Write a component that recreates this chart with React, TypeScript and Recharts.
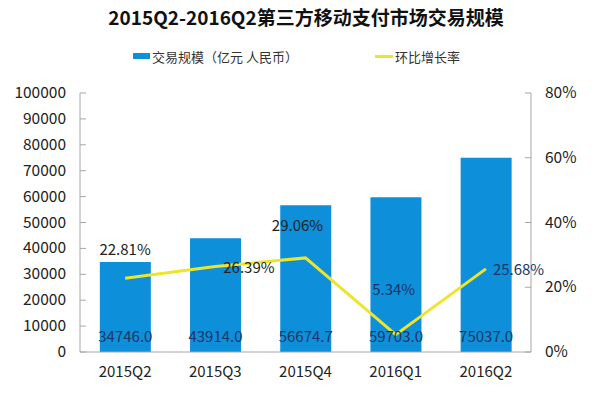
import React from "react";
import { ComposedChart, Bar, Line, XAxis, YAxis, LabelList } from "recharts";

const categories = ["2015Q2", "2015Q3", "2015Q4", "2016Q1", "2016Q2"];
const volume = [34746.0, 43914.0, 56674.7, 59703.0, 75037.0];
const growth = [22.81, 26.39, 29.06, 5.34, 25.68];
const leftTicks = [0, 10000, 20000, 30000, 40000, 50000, 60000, 70000, 80000, 90000, 100000];
const rightTicks = [0, 20, 40, 60, 80];

const data = categories.map((c, i) => ({ name: c, volume: volume[i], growth: growth[i] }));

const FONT = "'Noto Sans CJK SC', 'Noto Sans', sans-serif";
const BLUE = "#0E8FD9";
const YELLOW = "#EDE42B";

const LeftTick = (props: any) => {
  const { x, y, payload } = props;
  return (
    <g>
      <line x1={x + 14} x2={x + 20} y1={y} y2={y} stroke="#A6A6A6" />
      <text x={x} y={y} dy={5} textAnchor="end" fontSize={15.5} fill="#222" fontFamily={FONT}>
        {payload.value}
      </text>
    </g>
  );
};

const RightTick = (props: any) => {
  const { x, y, payload } = props;
  return (
    <g>
      <line x1={x - 20} x2={x - 14} y1={y} y2={y} stroke="#A6A6A6" />
      <text x={x} y={y} dy={5} textAnchor="start" fontSize={15.5} fill="#222" fontFamily={FONT}>
        {payload.value + "%"}
      </text>
    </g>
  );
};

const BarValueLabel = (props: any) => {
  const { x, width, y, height, value } = props;
  return (
    <text
      x={x + width / 2}
      y={y + height - 15}
      dy={5}
      textAnchor="middle"
      fontSize={15}
      fill="#1B3566"
      fontFamily={FONT}
    >
      {Number(value).toFixed(1)}
    </text>
  );
};

const LineLabel = (props: any) => {
  const { x, y, value, index } = props;
  let dx = 0;
  let dy = 0;
  let anchor: "start" | "middle" | "end" = "middle";
  if (index === 0) { dx = 0; dy = -28; }
  else if (index === 1) { dx = 8; dy = 1; anchor = "start"; }
  else if (index === 2) { dx = -8; dy = -32; }
  else if (index === 3) { dx = -2; dy = -45; }
  else { dx = 7; dy = 1; anchor = "start"; }
  return (
    <text
      x={x + dx}
      y={y + dy}
      dy={5}
      textAnchor={anchor}
      fontSize={15}
      fill={index >= 3 ? "#1B3566" : "#222"}
      fontFamily={FONT}
    >
      {Number(value).toFixed(2) + "%"}
    </text>
  );
};

export default function App() {
  return (
    <div style={{ position: "absolute", left: 0, top: 0, width: 612, height: 393, background: "#fff", fontFamily: FONT }}>
      <div
        style={{
          position: "absolute",
          left: 0,
          width: 612,
          top: 3,
          textAlign: "center",
          fontSize: 19,
          fontWeight: "bold",
          color: "#111",
        }}
      >
        2015Q2-2016Q2第三方移动支付市场交易规模
      </div>
      <div style={{ position: "absolute", left: 133, top: 46, height: 20, fontSize: 13, color: "#333", display: "flex", alignItems: "center" }}>
        <span style={{ display: "inline-block", width: 17, height: 6, background: BLUE, marginRight: 2 }} />
        交易规模（亿元 人民币）
      </div>
      <div style={{ position: "absolute", left: 375, top: 46, height: 20, fontSize: 13, color: "#333", display: "flex", alignItems: "center" }}>
        <span style={{ display: "inline-block", width: 18, height: 3, background: YELLOW, marginRight: 2 }} />
        环比增长率
      </div>
      <div style={{ position: "absolute", left: 0, top: 0 }}>
        <ComposedChart width={612} height={393} data={data} margin={{ top: 93, right: 0, bottom: 11, left: 0 }} barCategoryGap="22%">
          <XAxis
            dataKey="name"
            height={30}
            tickLine={false}
            tickSize={0}
            tickMargin={14}
            stroke="#A6A6A6"
            tick={{ fontSize: 15, fill: "#222", fontFamily: FONT }}
          />
          <YAxis
            yAxisId="left"
            orientation="left"
            width={80}
            domain={[0, 100000]}
            ticks={leftTicks}
            tickLine={false}
            tickSize={0}
            tickMargin={14}
            stroke="#A6A6A6"
            tick={<LeftTick />}
            interval={0}
          />
          <YAxis
            yAxisId="right"
            orientation="right"
            width={81}
            domain={[0, 80]}
            ticks={rightTicks}
            tickLine={false}
            tickSize={0}
            tickMargin={14}
            stroke="#A6A6A6"
            tick={<RightTick />}
            interval={0}
          />
          <Bar yAxisId="left" dataKey="volume" fill={BLUE} isAnimationActive={false}>
            <LabelList dataKey="volume" content={<BarValueLabel />} />
          </Bar>
          <Line
            yAxisId="right"
            dataKey="growth"
            stroke={YELLOW}
            strokeWidth={3}
            dot={false}
            isAnimationActive={false}
          >
            <LabelList dataKey="growth" content={<LineLabel />} />
          </Line>
        </ComposedChart>
      </div>
    </div>
  );
}
